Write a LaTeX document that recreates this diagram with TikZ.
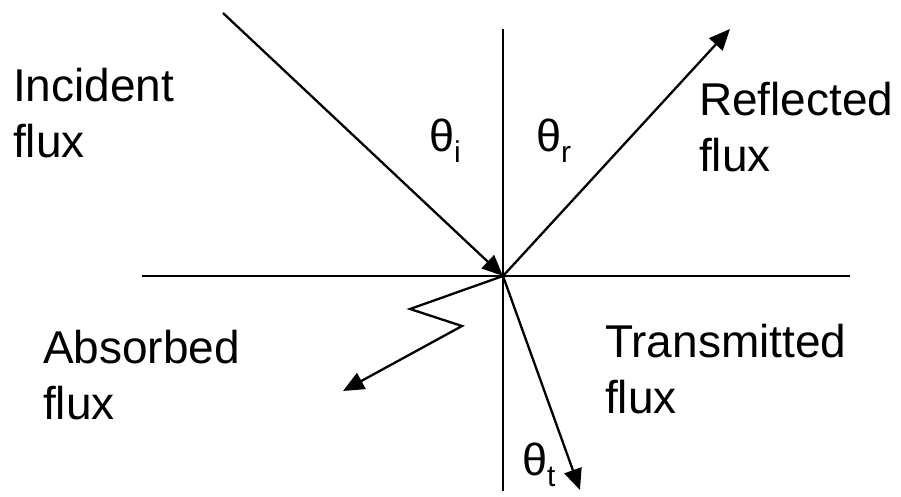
\documentclass[tikz,border=0pt]{standalone}
\usepackage{fontspec}
\setmainfont{Liberation Sans}
\usetikzlibrary{arrows.meta}
\newcommand{\angsub}[1]{\raisebox{-11pt}{\fontsize{30}{30}\selectfont #1}}

\begin{document}
\begin{tikzpicture}[x=1pt, y=-1pt, line width=2.3pt,
    flux/.style={-{Triangle[length=21pt,width=18pt]}},
    lbl/.style={anchor=base west, align=left, inner sep=0pt, font=\fontsize{46}{56}\selectfont},
    ang/.style={anchor=base west, inner sep=0pt, font=\fontsize{45}{45}\selectfont}]
    \useasboundingbox (0,0) rectangle (901,496);
    % Surface and normal
    \coordinate (O) at (503,276);
    \coordinate (hl) at (142,276);
    \coordinate (hr) at (850,276);
    \coordinate (vt) at (503,29);
    \coordinate (vb) at (503,491);
    \draw (hl) -- (hr);
    \draw (vt) -- (vb);
    % Ray end points
    \coordinate (src) at (223,13);
    \coordinate (refl) at (730,29);
    \coordinate (trans) at (580,490);
    \coordinate (z1) at (410,309);
    \coordinate (z2) at (462,326);
    \coordinate (absb) at (343,391);
    % Rays
    \draw[flux] (src) -- (O);
    \draw[flux] (O) -- (refl);
    \draw[flux] (O) -- (trans);
    \draw[flux, line join=miter] (O) -- (z1) -- (z2) -- (absb);
    % Labels (anchored at the baseline of the last line)
    \node[lbl] (inc) at (12,157) {Incident\\flux};
    \node[lbl] (ref) at (698,171) {Reflected\\flux};
    \node[lbl] (abl) at (42,419) {Absorbed\\flux};
    \node[lbl] (trl) at (604,413) {Transmitted\\flux};
    % Angles
    \node[ang] (thi) at (428,151) {θ\angsub{i}};
    \node[ang] (thr) at (535,151) {θ\angsub{r}};
    \node[ang] (tht) at (521,475) {θ\angsub{t}};
\end{tikzpicture}
\end{document}
